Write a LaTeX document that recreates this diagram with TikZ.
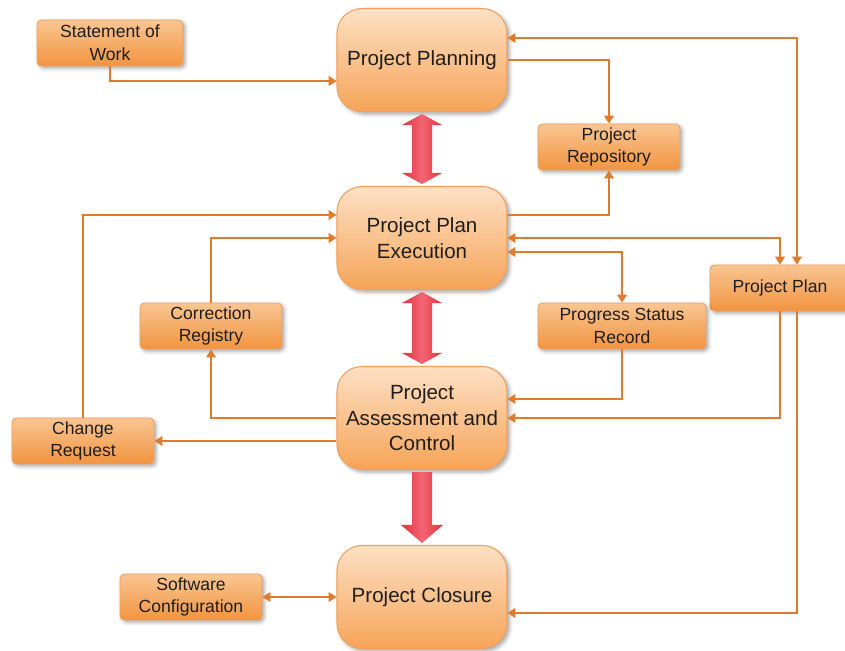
\documentclass[tikz,border=0pt]{standalone}
\usepackage{fontspec}
\setmainfont{Liberation Sans}
\usetikzlibrary{arrows.meta,calc,shadows.blur}
\definecolor{phasetop}{HTML}{FDE0C4}
\definecolor{phasemid}{HTML}{F9BB80}
\definecolor{phasebot}{HTML}{F6A458}
\definecolor{doctop}{HTML}{F9C592}
\definecolor{docmid}{HTML}{F6AA62}
\definecolor{docbot}{HTML}{F29440}
\definecolor{edge}{HTML}{EFA060}
\definecolor{linkor}{HTML}{E07A2C}
\definecolor{fatred}{HTML}{E4303D}
\definecolor{fatpink}{HTML}{F26673}
\definecolor{txt}{HTML}{1E1E1E}
% fat double arrow between two tips
\newcommand{\twoway}[2]{\shade[fat] (#1) -- ($(#1)+(20,11)$) -- ($(#1)+(10,11)$) -- ($(#2)+(10,-11)$)
  -- ($(#2)+(20,-11)$) -- (#2) -- ($(#2)+(-20,-11)$) -- ($(#2)+(-10,-11)$)
  -- ($(#1)+(-10,11)$) -- ($(#1)+(-20,11)$) -- cycle;}
% fat single arrow, shaft top to tip
\newcommand{\oneway}[2]{\shade[fat] ($(#1)+(-10,0)$) -- ($(#1)+(10,0)$) -- ($(#2)+(10,-18)$)
  -- ($(#2)+(21,-18)$) -- (#2) -- ($(#2)+(-21,-18)$) -- ($(#2)+(-10,-18)$) -- cycle;}
\begin{document}
\begin{tikzpicture}[x=0.02cm,y=-0.02cm,
  phase/.style={draw=edge, line width=0.6pt, rounded corners=0.5cm, top color=phasetop, middle color=phasemid,
    bottom color=phasebot, minimum width=3.4cm, minimum height=2.06cm, inner sep=0pt, align=center,
    text=txt, font=\fontsize{11.7}{14.5}\selectfont,
    blur shadow={shadow xshift=1.5pt, shadow yshift=-1.5pt, shadow blur steps=5, shadow opacity=35}},
  doc/.style={draw=edge, line width=0.5pt, rounded corners=2.5pt, top color=doctop, middle color=docmid,
    bottom color=docbot, minimum width=2.84cm, minimum height=0.92cm, inner sep=0pt, align=center,
    text=txt, font=\fontsize{10}{13}\selectfont,
    blur shadow={shadow xshift=1.2pt, shadow yshift=-1.2pt, shadow blur steps=4, shadow opacity=35}},
  link/.style={draw=linkor, line width=0.85pt, -{Triangle[width=5.5pt,length=4.5pt]}},
  both/.style={link, {Triangle[width=5.5pt,length=4.5pt]}-{Triangle[width=5.5pt,length=4.5pt]}},
  fat/.style={left color=fatred, right color=fatred, middle color=fatpink}]
\useasboundingbox (0,0) rectangle (845,651);

% phases
\node[phase] (plan) at (422,60) {Project Planning};
\node[phase] (exec) at (422,238) {Project Plan\\Execution};
\node[phase] (assess) at (422,418) {Project\\Assessment and\\Control};
\node[phase] (close) at (422,597) {Project Closure};

% documents
\node[doc, minimum width=2.92cm] (sow) at (110,43) {Statement of\\Work};
\node[doc] (repo) at (609,147) {Project\\Repository};
\node[doc, minimum width=2.8cm] (pplan) at (780,288) {Project Plan};
\node[doc] (corr) at (211,326) {Correction\\Registry};
\node[doc, minimum width=3.36cm] (prog) at (622,326) {Progress Status\\Record};
\node[doc] (chg) at (83,441) {Change\\Request};
\node[doc] (soft) at (191,597) {Software\\Configuration};

% big red arrows
\coordinate (a1) at ($(plan.south)+(0,2)$);
\coordinate (b1) at ($(exec.north)+(0,-2)$);
\coordinate (a2) at ($(exec.south)+(0,2)$);
\coordinate (b2) at ($(assess.north)+(0,-2)$);
\coordinate (a3) at ($(assess.south)+(0,2)$);
\coordinate (b3) at ($(close.north)+(0,-2)$);
\twoway{a1}{b1}
\twoway{a2}{b2}
\oneway{a3}{b3}

% connectors
\draw[link] (sow.south) |- ($(plan.west)+(0,21)$);
\draw[link] (plan.east) -| (repo.north);
\draw[link] ($(exec.east)+(0,-23)$) -| (repo.south);
\draw[both] ($(plan.east)+(0,-22)$) -| ($(pplan.north)+(17,0)$);
\draw[both] (exec.east) -| (pplan.north);
\draw[both] ($(exec.east)+(0,14)$) -| (prog.north);
\draw[link] (prog.south) |- ($(assess.east)+(0,-19)$);
\draw[link] (pplan.south) |- (assess.east);
\draw[link] ($(pplan.south)+(17,0)$) |- ($(close.east)+(0,16)$);
\draw[link] (chg.north) |- ($(exec.west)+(0,-23)$);
\draw[link] (corr.north) |- (exec.west);
\draw[link] (assess.west) -| (corr.south);
\draw[link] (assess.west |- chg.east) -- (chg.east);
\draw[both] (soft.east) -- (close.west);
\end{tikzpicture}
\end{document}
